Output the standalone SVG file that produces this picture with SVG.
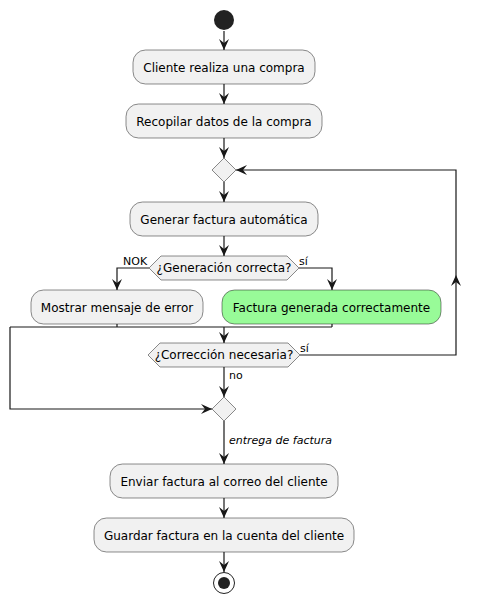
<svg xmlns="http://www.w3.org/2000/svg" width="480" height="604" viewBox="0 0 480 604">
<style>
.box{fill:#F1F1F1;stroke:#181818;stroke-width:0.5}
.green{fill:#98FB98;stroke:#181818;stroke-width:0.5}
.t{font-family:"DejaVu Sans",sans-serif;font-size:12px;fill:#000;text-anchor:middle}
.l{font-family:"DejaVu Sans",sans-serif;font-size:11px;fill:#000}
.c{fill:none;stroke:#181818;stroke-width:1.2}
</style>
<defs>
<marker id="a" markerUnits="userSpaceOnUse" markerWidth="11" markerHeight="10" refX="11" refY="5" orient="auto">
<path d="M0,0 L11,5 L0,10 L4,5 Z" fill="#181818"/>
</marker>
</defs>
<g id="connectors">
<path class="c" d="M224,31 V50" marker-end="url(#a)"/>
<path class="c" d="M224,84 V104" marker-end="url(#a)"/>
<path class="c" d="M224,138 V158" marker-end="url(#a)"/>
<path class="c" d="M224,182 V202" marker-end="url(#a)"/>
<path class="c" d="M224,236 V256" marker-end="url(#a)"/>
<path class="c" d="M149,268 H117 V290" marker-end="url(#a)"/>
<path class="c" d="M299,268 H332 V290" marker-end="url(#a)"/>
<path class="c" d="M117,324 V327 M332,324 V327 M10,327 H332"/>
<path class="c" d="M224,327 V343" marker-end="url(#a)"/>
<path class="c" d="M300,355 H456 V275" marker-end="url(#a)"/>
<path class="c" d="M456,275 V170 H236" marker-end="url(#a)"/>
<path class="c" d="M224,367 V397" marker-end="url(#a)"/>
<path class="c" d="M10,327 V409 H212" marker-end="url(#a)"/>
<path class="c" d="M224,421 V464" marker-end="url(#a)"/>
<path class="c" d="M224,498 V518" marker-end="url(#a)"/>
<path class="c" d="M224,552 V572" marker-end="url(#a)"/>
<text class="l" x="123" y="265">NOK</text>
<text class="l" x="299" y="265">sí</text>
<text class="l" x="300" y="352">sí</text>
<text class="l" x="229" y="379">no</text>
<text class="l" x="229" y="444" font-style="italic">entrega de factura</text>
</g>
<g id="start"><circle cx="224" cy="20" r="10" fill="#222222"/></g>
<g id="n1"><rect class="box" x="133" y="50" width="182" height="34" rx="12.5"/><text class="t" x="224" y="71.5">Cliente realiza una compra</text></g>
<g id="n2"><rect class="box" x="126" y="104" width="196" height="34" rx="12.5"/><text class="t" x="224" y="125.5">Recopilar datos de la compra</text></g>
<g id="repeat"><polygon class="box" points="224,158 236,170 224,182 212,170"/></g>
<g id="n3"><rect class="box" x="130" y="202" width="188" height="34" rx="12.5"/><text class="t" x="224" y="223.5">Generar factura automática</text></g>
<g id="d1"><polygon class="box" points="149,268 161,256 287,256 299,268 287,280 161,280"/><text class="t" x="224" y="272">¿Generación correcta?</text></g>
<g id="n4"><rect class="box" x="31" y="290" width="172" height="34" rx="12.5"/><text class="t" x="117" y="311.5">Mostrar mensaje de error</text></g>
<g id="n5"><rect class="green" x="222" y="290" width="219" height="34" rx="12.5"/><text class="t" x="331.5" y="311.5">Factura generada correctamente</text></g>
<g id="d2"><polygon class="box" points="148,355 160,343 288,343 300,355 288,367 160,367"/><text class="t" x="224" y="359">¿Corrección necesaria?</text></g>
<g id="merge"><polygon class="box" points="224,397 236,409 224,421 212,409"/></g>
<g id="n6"><rect class="box" x="110" y="464" width="228" height="34" rx="12.5"/><text class="t" x="224" y="485.5">Enviar factura al correo del cliente</text></g>
<g id="n7"><rect class="box" x="94" y="518" width="260" height="34" rx="12.5"/><text class="t" x="224" y="539.5">Guardar factura en la cuenta del cliente</text></g>
<g id="end"><circle cx="224" cy="583" r="10.5" fill="none" stroke="#222222" stroke-width="1"/><circle cx="224" cy="583" r="6" fill="#222222"/></g>
</svg>
